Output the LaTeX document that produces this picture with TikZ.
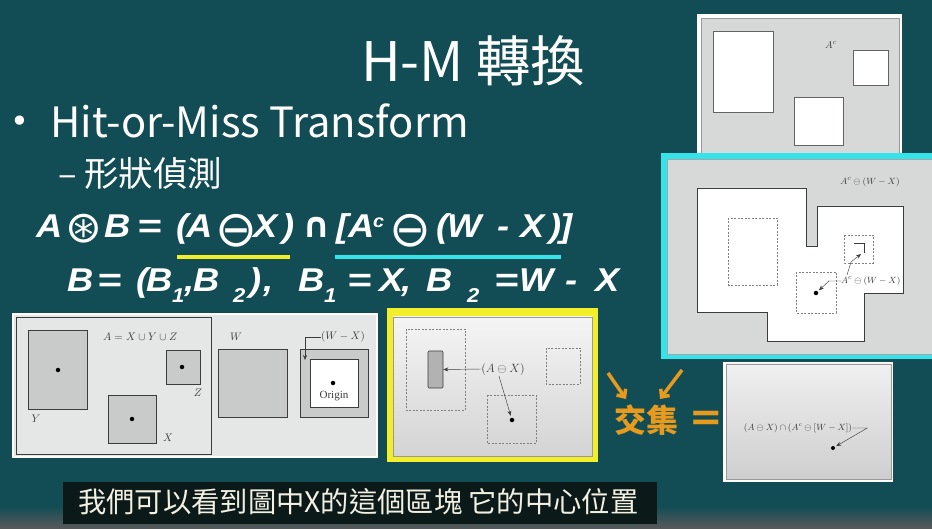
\documentclass[tikz,border=0pt]{standalone}
\usepackage{fontspec}
\setmainfont{Liberation Sans}
\newfontfamily\cjk{Noto Sans CJK TC}
\newfontfamily\symfont{DejaVu Sans}
\newfontfamily\figserif{Liberation Serif}
\newfontfamily\eqfont{Liberation Sans}[FakeStretch=1.1]
\usetikzlibrary{arrows.meta,calc}

\definecolor{slidebg}{HTML}{124C55}
\definecolor{panelgray}{HTML}{D7D9D9}
\definecolor{lightpanel}{HTML}{E5E6E6}
\definecolor{hlcyan}{HTML}{35E3EA}
\definecolor{hlyellow}{HTML}{F3EE2A}
\definecolor{accent}{HTML}{E69B1E}
\definecolor{shapegray}{HTML}{C9CACA}
\definecolor{inkgray}{HTML}{3C3C3C}
\definecolor{capbar}{HTML}{0C1919}
\definecolor{captext}{HTML}{F2F0E2}

\tikzset{
  figbox/.style={draw=inkgray, line width=0.6pt, fill=shapegray},
  hole/.style={draw=inkgray!80, line width=0.6pt, fill=white},
  dashbox/.style={draw=gray, dash pattern=on 2pt off 1.5pt, line width=0.55pt},
  figlabel/.style={text=inkgray, inner sep=0pt, font=\fontsize{10}{10}\selectfont},
  dotmark/.style={circle, fill=black, inner sep=0pt, minimum size=4.5pt},
  leader/.style={draw=inkgray, line width=0.45pt, -{Stealth[length=5pt,width=4pt]}},
  hot/.style={draw=accent, line width=3.5pt, -{Straight Barb[length=6pt,width=11pt]}},
  slidetext/.style={text=white, inner sep=0pt},
  eqglyph/.style={slidetext, anchor=base west, font=\eqfont\fontsize{33}{33}\selectfont\bfseries\itshape},
  eqsub/.style={slidetext, anchor=base west, font=\eqfont\fontsize{20}{20}\selectfont\bfseries\itshape},
  eqop/.style={slidetext, font=\symfont\fontsize{50}{50}\selectfont},
}
% one glyph of the slide formulas: name, x, baseline, text
\newcommand\eqg[4]{\node[eqglyph] (#1) at (#2,#3) {#4};}
\newcommand\eqs[4]{\node[eqsub] (#1) at (#2,#3) {#4};}
\newcommand\wideeq{\scalebox{1.15}[1]{=}}

\begin{document}
\begin{tikzpicture}[x=1pt, y=-1pt]
\useasboundingbox (0,0) rectangle (932,529);
% slide background
\fill[slidebg] (0,0) rectangle (932,529);
\shade[top color=slidebg, bottom color=black!65] (0,506) rectangle (932,529);

% ---------- headings ----------
\node[slidetext, anchor=base west] (title) at (361,82) {\cjk\fontsize{54.5}{54.5}\selectfont H-M 轉換};
\node[slidetext] (bullet) at (20,124) {\symfont\fontsize{32}{32}\selectfont •};
\node[slidetext, anchor=base west] (hitmiss) at (50,138) {\cjk\fontsize{41.7}{41.7}\selectfont Hit-or-Miss Transform};
\node[slidetext, anchor=base west] (shape) at (58,187) {\cjk\fontsize{34.5}{34.5}\selectfont – 形狀偵測};

% ---------- formula: A hit-or-miss B ----------
\eqg{fa}{36}{238}{A}
\node[slidetext, font=\symfont\fontsize{44}{44}\selectfont] (fhm) at (83.5,229) {⊛};
\eqg{fb}{104}{238}{B}
\eqg{feq}{137}{238}{\wideeq}
\eqg{fpa}{176}{238}{(}
\eqg{fa2}{186}{238}{A}
\node[eqop] (fer1) at (236.5,231) {⊖};
\eqg{fx}{253}{238}{X}
\eqg{fpb}{282}{238}{)}
\node[slidetext, anchor=base west, font=\symfont\fontsize{35}{35}\selectfont\bfseries\itshape] (fcap) at (302,238) {∩};
\eqg{fbra}{336}{238}{[}
\eqg{fa3}{348}{238}{A}
\node[slidetext, anchor=base west, font=\eqfont\fontsize{18}{18}\selectfont\bfseries\itshape] (fc) at (373,228) {c};
\node[eqop] (fer2) at (410.5,231) {⊖};
\eqg{fpc}{436}{238}{(}
\eqg{fw}{447}{238}{W}
\eqg{fmin}{497}{238}{-}
\eqg{fx2}{520}{238}{X}
\eqg{fpd}{549}{238}{)}
\eqg{fket}{560}{238}{]}
\draw[hlyellow, line width=4pt] (177,257) -- (290,257);
\draw[hlcyan, line width=4pt] (335,257) -- (561,257);

% ---------- formula: structuring pair ----------
\eqg{gb}{67}{292}{B}
\eqg{geq}{97}{292}{\wideeq}
\eqg{gpa}{136}{292}{(}
\eqg{gb1}{146}{292}{B}
\eqs{gs1}{172}{303}{1}
\eqg{gcm}{184}{292}{,}
\eqg{gb2}{193}{292}{B}
\eqs{gs2}{233}{303}{2}
\eqg{gpb}{249}{292}{)}
\eqg{gcm2}{263}{292}{,}
\eqg{gb3}{298}{292}{B}
\eqs{gs3}{324}{303}{1}
\eqg{geq2}{347}{292}{\wideeq}
\eqg{gx}{379}{292}{X}
\eqg{gcm3}{401}{292}{,}
\eqg{gb4}{426}{292}{B}
\eqs{gs4}{467}{303}{2}
\eqg{geq3}{494}{292}{\wideeq}
\eqg{gw}{519}{292}{W}
\eqg{gmin}{565}{292}{-}
\eqg{gx2}{595}{292}{X}

% ---------- panel: complement A^c ----------
\fill[white] (697,14) rectangle (902,160);
\filldraw[fill=panelgray, draw=gray!80] (701,18) rectangle (899,165);
\draw[hole] (713,31) rectangle (773,112);
\draw[hole] (853,50) rectangle (888,85);
\draw[hole] (794,97) rectangle (843,145);
\node[figlabel] (aclabel) at (831,45) {$A^c$};

% ---------- panel: A^c eroded by (W - X) ----------
\fill[hlcyan] (661,153) rectangle (940,359);
\filldraw[fill=panelgray, draw=gray!70] (667,159) rectangle (940,354);
\filldraw[fill=white, draw=inkgray, line width=0.6pt]
  (697,188) -- (806,188) -- (806,246) -- (817,246) -- (817,206) -- (903,206)
  -- (903,293) -- (864,293) -- (864,341) -- (767,341) -- (767,312) -- (697,312) -- cycle;
\draw[dashbox] (728,218) rectangle (777,285);
\draw[dashbox] (844,235) rectangle (873,263);
\draw[dashbox] (796,272) rectangle (836,313);
\node[figlabel, font=\fontsize{9.5}{9.5}\selectfont] (acw) at (870,182) {$A^c\ominus(W-X)$};
\node[figlabel, font=\fontsize{9.5}{9.5}\selectfont, anchor=west] (acwb) at (841,281) {$A^c\ominus(W-X)$};
\draw[inkgray, line width=1pt] (854,244) -- (864,244) -- (864,253);
\coordinate (acbend) at (851,262);
\coordinate (actip) at (861,254);
\node[dotmark] (acdot) at (816,293) {};
\draw[leader] ($(acwb.west)+(6,-6)$) -- (acbend) -- (actip);
\draw[leader, shorten >=1.5pt] (acwb.west) -- ++(-12,0) -- (acdot);

% ---------- panel: A, W and (W - X) ----------
\filldraw[fill=lightpanel, draw=white, line width=1.2pt] (13,314) rectangle (377,457);
\draw[inkgray, line width=0.6pt] (16,317) rectangle (211,454);
\draw[figbox] (28,330) rectangle (87,409);
\draw[figbox] (166,350) rectangle (200,384);
\draw[figbox] (108,395) rectangle (156,443);
\node[dotmark] (ydot) at (58,370) {};
\node[dotmark] (zdot) at (182,367) {};
\node[dotmark] (xdot) at (132,419) {};
\node[figlabel, font=\fontsize{11}{11}\selectfont, anchor=west] (aeq) at (103,337) {$A = X\cup Y\cup Z$};
\node[figlabel, font=\fontsize{11}{11}\selectfont] (ylab) at (36,419) {$Y$};
\node[figlabel, font=\fontsize{11}{11}\selectfont] (zlab) at (198,393) {$Z$};
\node[figlabel, font=\fontsize{11}{11}\selectfont] (xlab) at (168,438) {$X$};
\node[figlabel, font=\fontsize{11}{11}\selectfont] (wlab) at (236,337) {$W$};
\draw[figbox] (218,349) rectangle (287,417);
\draw[figbox] (300,349) rectangle (368,417);
\draw[hole, draw=inkgray] (310,359) rectangle (358,407);
\node[dotmark] (odot) at (333,383) {};
\node[figlabel, font=\figserif\fontsize{11}{11}\selectfont] (origin) at (334,396) {Origin};
\node[figlabel, font=\fontsize{11}{11}\selectfont, anchor=west] (wx) at (321,337) {$(W - X)$};
\coordinate (wxtip) at (305,360);
\draw[leader] (wx.west) -| (wxtip);

% ---------- panel: A eroded by X ----------
\fill[hlyellow] (387,308) rectangle (598,462);
\shade[top color=white!96!black, bottom color=black!17] (393,317) rectangle (592,456);
\draw[gray!80] (393,317) rectangle (592,456);
\draw[dashbox] (406,329) rectangle (465,410);
\draw[dashbox] (546,348) rectangle (580,384);
\draw[dashbox] (487,395) rectangle (536,443);
\node[draw=inkgray, line width=0.6pt, fill=black!30, rounded corners=1pt,
      minimum width=15pt, minimum height=37pt, inner sep=0pt] (axbar) at (435.5,369.5) {};
\node[figlabel, font=\fontsize{12}{12}\selectfont] (ax) at (503,369) {$(A\ominus X)$};
\node[dotmark] (axdot) at (512,420) {};
\draw[leader] (ax.west) -- (axbar.east);
\draw[leader, shorten >=2pt] ($(ax.south)+(-4,1)$) -- (axdot);

% ---------- intersection ----------
\coordinate (hotA) at (608,373);
\coordinate (hotAend) at (626,399);
\coordinate (hotB) at (682,370);
\coordinate (hotBend) at (660,399);
\draw[hot] (hotA) -- (hotAend);
\draw[hot] (hotB) -- (hotBend);
\node[text=accent, inner sep=0pt] (jiaoji) at (646,420) {\cjk\bfseries\fontsize{32}{32}\selectfont 交集};
\node[text=accent, inner sep=0pt] (equals) at (706,421) {\symfont\bfseries\fontsize{40}{40}\selectfont =};

\fill[white] (723,362) rectangle (893,482);
\shade[top color=white!94!black, bottom color=black!19] (726,364) rectangle (891,479);
\draw[gray!80] (726,364) rectangle (891,479);
\node[figlabel, font=\fontsize{9}{9}\selectfont] (inter) at (798,428) {$(A\ominus X)\cap(A^c\ominus[W-X])$};
\node[dotmark, minimum size=4pt] (idot) at (833,448) {};
\draw[leader, shorten >=1.5pt] (inter.east) -- ++(15,0) -- (idot);

% ---------- caption ----------
\fill[capbar] (63,482) rectangle (657,524);
\node[text=captext, inner sep=0pt, anchor=base west] (caption) at (78,512)
  {\cjk\fontsize{28.3}{28.3}\selectfont 我們可以看到圖中X的這個區塊 它的中心位置};
\end{tikzpicture}
\end{document}
